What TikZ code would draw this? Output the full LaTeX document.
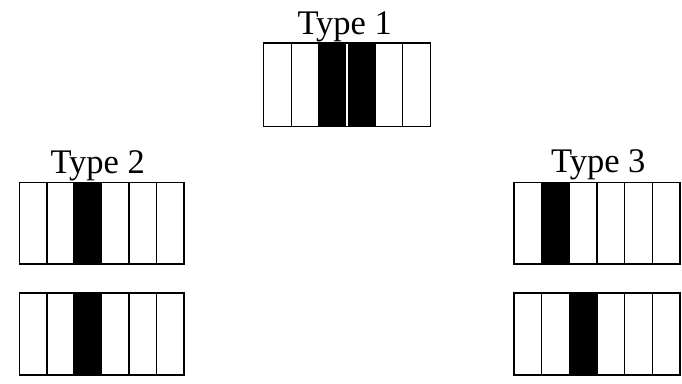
\documentclass[tikz,border=0pt]{standalone}
\usepackage{fontspec}
\setmainfont{Liberation Serif}
\newcommand\barstrip[5]{%
  \pgfmathsetmacro\cw{(#3-#1)/6}%
  \foreach \k in {#5} {\fill ({#1+\k*\cw-\cw},#2) rectangle ({#1+\k*\cw},#4);}%
  \foreach \i in {1,...,5} {\draw ({#1+\i*\cw},#2) -- ({#1+\i*\cw},#4);}%
  \draw (#1,#2) rectangle (#3,#4);%
}
\begin{document}
\begin{tikzpicture}[x=1pt,y=-1pt,line width=1.6pt,
  typelabel/.style={font=\fontsize{34.5}{40}\selectfont,anchor=base,inner sep=0pt}]
\useasboundingbox (0,0) rectangle (682,383);
% labels
\node[typelabel] (t1) at (344.7,34) {Type 1};
\node[typelabel] (t2) at (97.7,173.5) {Type 2};
\node[typelabel] (t3) at (598.3,172) {Type 3};
% Type 1
\barstrip{263.5}{43}{430.5}{126.5}{3,4}
\draw[white,line width=2pt] (347,44) -- (347,125.5);
% Type 2
\barstrip{19.3}{182.3}{184}{264}{3}
\barstrip{19.3}{292.7}{184}{375}{3}
% Type 3
\barstrip{514}{182.3}{680}{264}{2}
\barstrip{514}{292.7}{680}{375}{3}
\end{tikzpicture}
\end{document}
